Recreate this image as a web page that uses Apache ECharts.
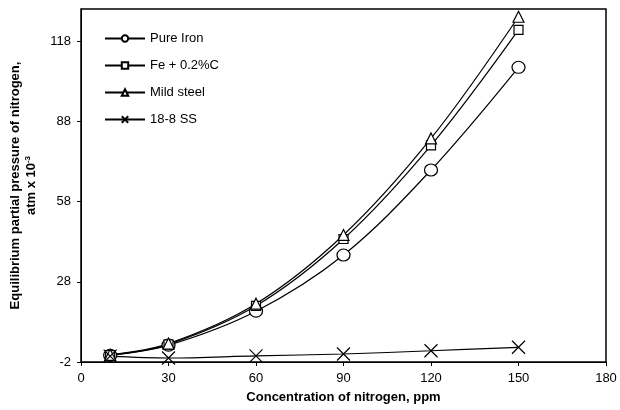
<!DOCTYPE html>
<html>
<head>
<meta charset="utf-8">
<script src="https://cdn.jsdelivr.net/npm/echarts@6/dist/echarts.min.js"></script>
<style>
  html, body { margin: 0; padding: 0; background: #fff; }
  #chart { width: 620px; height: 410px; }
</style>
</head>
<body>
<div id="chart"></div>
<script>
// Nitrogen concentration (ppm)
const nitrogenPpm = [10, 30, 60, 90, 120, 150];

// Equilibrium partial pressure of nitrogen, atm x 10^-3
const pureIron   = [0.5, 4.3, 17.0, 38.0, 69.8, 108.2];
const fe02C      = [0.6, 4.6, 19.0, 44.0, 79.0, 122.2];
const mildSteel  = [0.7, 4.9, 19.8, 45.5, 81.6, 127.1];
const ss188      = [0.2, -0.5, 0.3, 1.0, 2.2, 3.5];

const seriesNames = ['Pure Iron', 'Fe + 0.2%C', 'Mild steel', '18-8 SS'];

const FONT = 'Liberation Sans, Arial, sans-serif';
const crossPath = 'path://M0,0L10,10M10,0L0,10';

function pairs(ys) {
  return nitrogenPpm.map((x, i) => [x, ys[i]]);
}

function makeSeries(name, ys, symbol, size) {
  return {
    name: name,
    type: 'line',
    data: pairs(ys),
    smooth: 0.35,
    symbol: symbol,
    symbolSize: size,
    showAllSymbol: true,
    lineStyle: { color: '#000', width: 1.2 },
    itemStyle: { color: '#fff', borderColor: '#000', borderWidth: 1.2 },
    emphasis: { disabled: true },
    z: 3
  };
}

const chart = echarts.init(document.getElementById('chart'), null, { renderer: 'canvas' });

chart.setOption({
  animation: false,
  backgroundColor: '#fff',
  grid: {
    left: 81, right: 14, top: 9, bottom: 48,
    outerBoundsMode: 'none', containLabel: false,
    show: true, borderColor: '#000', borderWidth: 1.5, backgroundColor: 'transparent'
  },
  legend: {
    orient: 'vertical',
    left: 99, top: 27,
    itemWidth: 40, itemHeight: 8, itemGap: 14,
    textStyle: { fontFamily: FONT, fontSize: 13, color: '#000' },
    data: seriesNames
  },
  xAxis: {
    type: 'value',
    min: 0, max: 180, interval: 30,
    splitLine: { show: false },
    axisLine: { onZero: false, lineStyle: { color: '#000', width: 1 } },
    axisTick: { show: true, length: 4, inside: false, lineStyle: { color: '#000' } },
    axisLabel: { color: '#000', fontFamily: FONT, fontSize: 13, margin: 10 },
    name: 'Concentration of nitrogen, ppm',
    nameLocation: 'middle',
    nameGap: 29,
    nameTextStyle: { color: '#000', fontFamily: FONT, fontSize: 13, fontWeight: 'bold' }
  },
  yAxis: {
    type: 'value',
    min: -2, max: 130, interval: 30,
    splitLine: { show: false },
    axisLine: { show: true, onZero: false, lineStyle: { color: '#000', width: 1 } },
    axisTick: { show: true, length: 4, inside: false, lineStyle: { color: '#000' } },
    axisLabel: { color: '#000', fontFamily: FONT, fontSize: 13, margin: 10, showMaxLabel: false },
    name: 'Equilibrium partial pressure of nitrogen,\natm x 10{sup|-3}',
    nameLocation: 'middle',
    nameRotate: 90,
    nameGap: 38,
    nameTextStyle: {
      color: '#000', fontFamily: FONT, fontSize: 13, fontWeight: 'bold', lineHeight: 16,
      rich: {
        sup: { fontFamily: FONT, fontSize: 8, fontWeight: 'bold', verticalAlign: 'top', color: '#000', padding: [0, 0, 6, 0] }
      }
    }
  },
  series: [
    makeSeries(seriesNames[0], pureIron, 'circle', [13, 12]),
    makeSeries(seriesNames[1], fe02C, 'rect', 9),
    makeSeries(seriesNames[2], mildSteel, 'triangle', 11),
    makeSeries(seriesNames[3], ss188, crossPath, 13)
  ]
});
</script>
</body>
</html>
